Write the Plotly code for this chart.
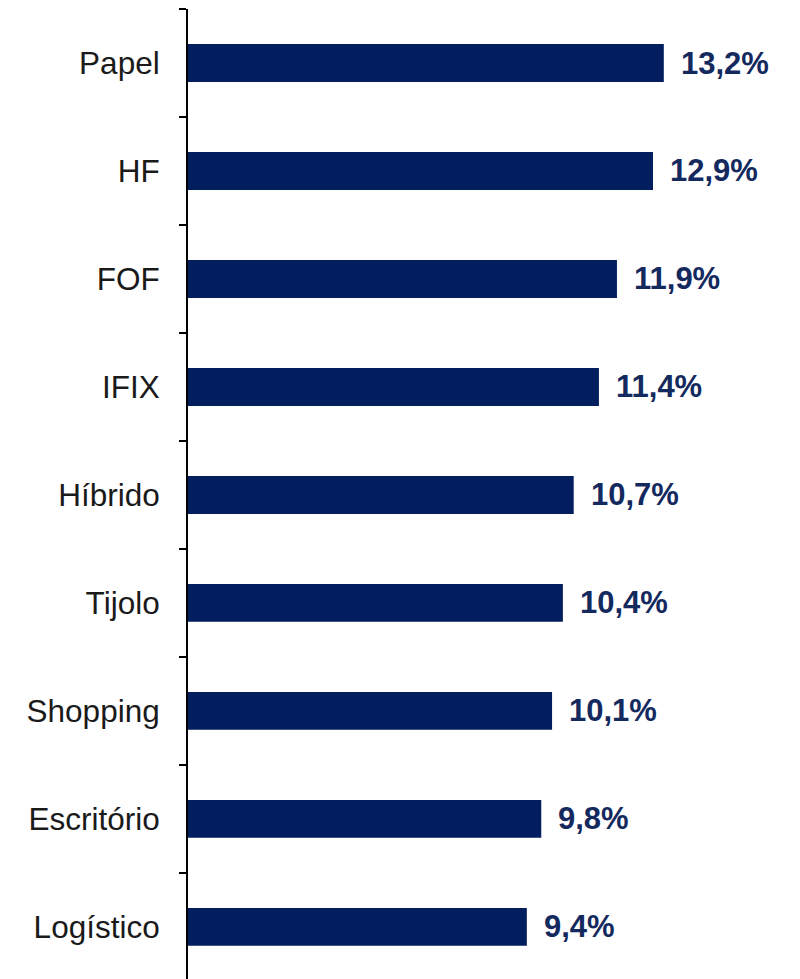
import plotly.graph_objects as go

# Dados (de cima para baixo)
categorias = ['Papel', 'HF', 'FOF', 'IFIX', 'Híbrido', 'Tijolo', 'Shopping', 'Escritório', 'Logístico']
valores = [13.2, 12.9, 11.9, 11.4, 10.7, 10.4, 10.1, 9.8, 9.4]
rotulos = [f'{v:.1f}%'.replace('.', ',') for v in valores]

cor_barra = '#031E5E'
cor_texto = '#14295E'

fig = go.Figure()

fig.add_trace(go.Bar(
    y=categorias,
    x=valores,
    orientation='h',
    width=0.35,
    marker=dict(color=cor_barra, line=dict(width=0)),
    hoverinfo='skip'
))

# Rótulos de dados à direita das barras
for cat, v, txt in zip(categorias, valores, rotulos):
    fig.add_annotation(
        x=v, y=cat, text=f'<b>{txt}</b>',
        xanchor='left', yanchor='middle', xshift=15,
        showarrow=False,
        font=dict(family='Liberation Sans, Arial', size=31, color=cor_texto)
    )

# a página tem margem de 8px no body, por isso as margens estão compensadas
fig.update_layout(
    width=800,
    height=979,
    margin=dict(l=180, r=0, t=1, b=0),
    plot_bgcolor='white',
    paper_bgcolor='white',
    showlegend=False,
    font=dict(family='Liberation Sans, Arial', size=31.5, color='#1a1a1a'),
    xaxis=dict(
        range=[0, 17.2],
        visible=False,
        showgrid=False,
        zeroline=False
    ),
    yaxis=dict(
        type='category',
        categoryorder='array',
        categoryarray=categorias,
        range=[8.556, -0.5],
        showline=True,
        linecolor='black',
        linewidth=2,
        ticks='outside',
        tickson='boundaries',
        ticklen=7,
        tickwidth=2,
        tickcolor='black',
        ticklabelstandoff=20,
        showgrid=False,
        zeroline=False
    )
)

fig.write_html("out.html")
